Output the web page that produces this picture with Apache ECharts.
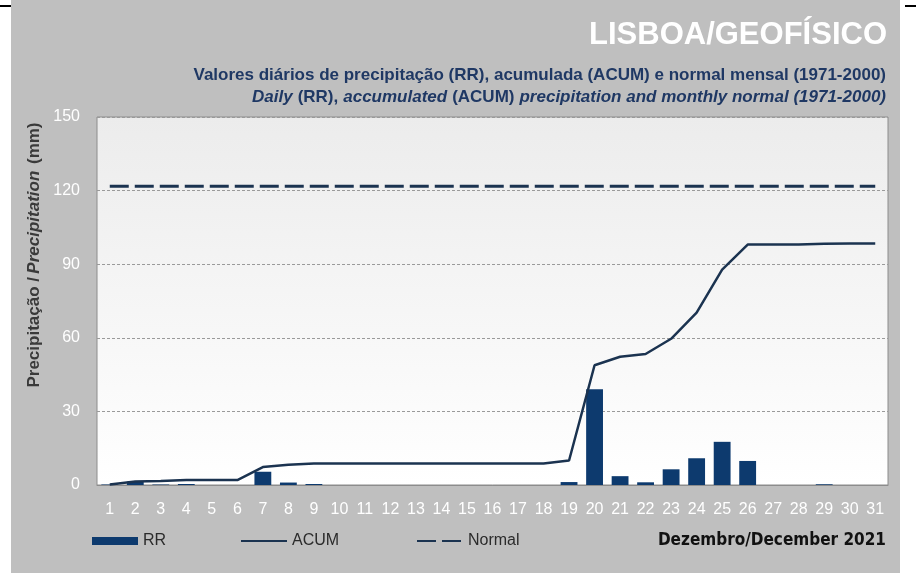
<!DOCTYPE html>
<html>
<head>
<meta charset="utf-8">
<script src="https://cdn.jsdelivr.net/npm/echarts@6/dist/echarts.min.js"></script>
<style>
  html, body { margin: 0; padding: 0; background: #fff; }
  #chart { width: 916px; height: 573px; }
</style>
</head>
<body>
<div id="chart"></div>
<script>
// dias do mês (eixo x)
var days = ['1','2','3','4','5','6','7','8','9','10','11','12','13','14','15','16',
  '17','18','19','20','21','22','23','24','25','26','27','28','29','30','31'];
// precipitação diária RR (mm)
var rr = [0.2, 1.4, 0.2, 0.4, 0, 0, 5.4, 1.0, 0.4, 0, 0, 0, 0, 0, 0, 0,
  0, 0, 1.2, 39.0, 3.6, 1.1, 6.4, 10.9, 17.6, 9.8, 0, 0, 0.3, 0, 0];
// precipitação acumulada ACUM (mm)
var acum = [0.2, 1.4, 1.6, 2.0, 2.0, 2.0, 7.3, 8.3, 8.8, 8.8, 8.8, 8.8, 8.8, 8.8, 8.8, 8.8,
  8.8, 8.8, 10.0, 48.8, 52.3, 53.4, 59.6, 70.3, 87.8, 98.0, 98.0, 98.0, 98.3, 98.4, 98.4];
// normal mensal 1971-2000 (mm)
var normal = [121.8, 121.8, 121.8, 121.8, 121.8, 121.8, 121.8, 121.8, 121.8, 121.8, 121.8,
  121.8, 121.8, 121.8, 121.8, 121.8, 121.8, 121.8, 121.8, 121.8, 121.8, 121.8, 121.8,
  121.8, 121.8, 121.8, 121.8, 121.8, 121.8, 121.8, 121.8];
var yTicks = [0, 30, 60, 90, 120, 150];

var FONT = '"Liberation Sans Narrow", "Liberation Sans", Arial, sans-serif';
var NAVY = '#1f3864';
var LINE = '#1b3350';

var chart = echarts.init(document.getElementById('chart'));

// uma legenda por série, para as pôr onde estão no original
function legendAt(left, name, extra) {
  return {
    left: left, top: 533,
    padding: 0,
    itemWidth: 46, itemHeight: 8,
    selectedMode: false,
    textStyle: { color: '#2b2b2b', fontSize: 16, fontFamily: FONT },
    data: [Object.assign({ name: name }, extra)]
  };
}

var option = {
  backgroundColor: '#bfbfbf',
  animation: false,
  textStyle: { fontFamily: FONT },
  graphic: [
    // margens brancas e traços pretos da moldura
    { type: 'rect', left: 0, top: 0, shape: { width: 11, height: 573 }, style: { fill: '#fff' } },
    { type: 'rect', left: 900, top: 0, shape: { width: 16, height: 573 }, style: { fill: '#fff' } },
    { type: 'rect', left: 0, top: 5, shape: { width: 11, height: 2 }, style: { fill: '#000' } },
    { type: 'rect', left: 905, top: 5, shape: { width: 11, height: 2 }, style: { fill: '#000' } }
  ],
  title: [
    {
      text: 'LISBOA/GEOFÍSICO',
      right: 29, top: 20, padding: 0,
      textStyle: { color: '#fff', fontSize: 31, fontWeight: 'bold', fontFamily: FONT }
    },
    {
      text: 'Valores diários de precipitação (RR), acumulada (ACUM) e normal mensal (1971-2000)',
      right: 30, top: 67, padding: 0,
      textStyle: { color: NAVY, fontSize: 17, fontWeight: 'bold', fontFamily: FONT }
    },
    {
      text: '{i|Daily} {n|(RR),} {i|accumulated} {n|(ACUM)} {i|precipitation and monthly normal (1971-2000)}',
      right: 30, top: 88, padding: 0,
      textStyle: {
        rich: {
          i: { color: NAVY, fontSize: 17, fontWeight: 'bold', fontStyle: 'italic', fontFamily: FONT },
          n: { color: NAVY, fontSize: 17, fontWeight: 'bold', fontFamily: FONT }
        }
      }
    },
    {
      text: 'Dezembro/December 2021',
      right: 30, top: 532, padding: 0,
      textStyle: { color: '#111', fontSize: 17, fontWeight: 'bold', fontFamily: '"Liberation Sans Narrow", "DejaVu Sans Condensed", sans-serif' }
    }
  ],
  legend: [
    legendAt(92, 'RR', { icon: 'rect' }),
    legendAt(240, 'ACUM', { itemStyle: { opacity: 0 } }),
    legendAt(416, 'Normal', { itemStyle: { opacity: 0 } })
  ],
  grid: {
    left: 97, right: 28, top: 117, bottom: 88,
    show: true,
    borderColor: '#8c8c8c',
    borderWidth: 1,
    backgroundColor: new echarts.graphic.LinearGradient(0, 0, 0, 1, [
      { offset: 0, color: '#ececec' },
      { offset: 1, color: '#ffffff' }
    ])
  },
  xAxis: {
    type: 'category',
    data: days,
    boundaryGap: true,
    axisLine: { lineStyle: { color: '#8c8c8c' } },
    axisTick: { inside: true, length: 6, lineStyle: { color: '#999' } },
    axisLabel: { color: '#fff', fontSize: 16, margin: 17, fontFamily: FONT, interval: 0 }
  },
  yAxis: {
    type: 'value',
    min: yTicks[0], max: yTicks[yTicks.length - 1], interval: 30,
    name: '{n|Precipitação /} {i|Precipitation}  {n|(mm)}',
    nameLocation: 'middle',
    nameGap: 42,
    nameTextStyle: {
      padding: [0, 0, 0, 92],
      rich: {
        n: { color: '#3a3a3a', fontSize: 17, fontWeight: 'bold', fontFamily: FONT },
        i: { color: '#3a3a3a', fontSize: 17, fontWeight: 'bold', fontStyle: 'italic', fontFamily: FONT }
      }
    },
    axisLine: { show: false },
    axisTick: { show: false },
    axisLabel: { color: '#fff', fontSize: 16, margin: 17, fontFamily: FONT },
    splitLine: { lineStyle: { color: '#9a9a9a', type: [3, 2], width: 1 } }
  },
  series: [
    {
      name: 'RR',
      type: 'bar',
      data: rr,
      barWidth: '66%',
      itemStyle: { color: '#0d3a6e' },
      z: 2
    },
    {
      name: 'ACUM',
      type: 'line',
      data: acum,
      symbol: 'none',
      itemStyle: { color: LINE },
      lineStyle: { color: LINE, width: 2.5 },
      z: 3
    },
    {
      name: 'Normal',
      type: 'line',
      data: normal,
      symbol: 'none',
      itemStyle: { color: LINE },
      lineStyle: { color: LINE, width: 3, type: [19, 6] },
      z: 3
    }
  ]
};

chart.setOption(option);
</script>
</body>
</html>
